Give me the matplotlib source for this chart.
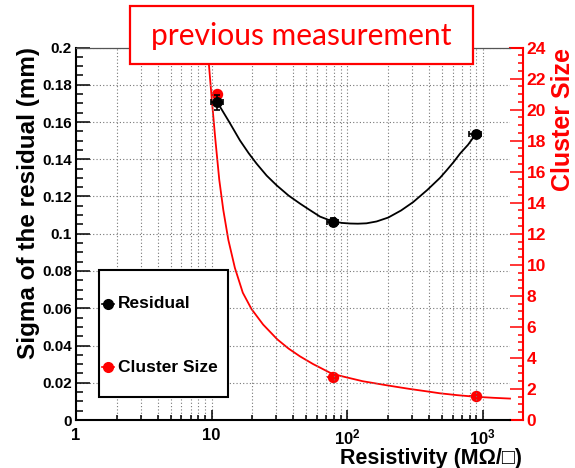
import matplotlib
matplotlib.use('Agg')
import matplotlib.pyplot as plt
from matplotlib.ticker import MultipleLocator, NullFormatter, LogLocator, FixedLocator, FuncFormatter
from matplotlib.patches import Rectangle
from matplotlib.lines import Line2D

plt.rcParams['font.family'] = ['Liberation Sans', 'DejaVu Sans']
plt.rcParams['font.weight'] = 'bold'
plt.rcParams['mathtext.fontset'] = 'custom'
plt.rcParams['mathtext.rm'] = 'Liberation Sans:bold'
plt.rcParams['mathtext.bf'] = 'Liberation Sans:bold'
plt.rcParams['mathtext.it'] = 'Liberation Sans:bold:italic'

# ---------------- data ----------------
resistivity = [11.0, 78.0, 887.0]
res_xerr = [1.1, 7.5, 90.0]
residual = [0.1707, 0.1063, 0.1534]
residual_err = [0.004, 0.002, 0.002]
cluster_size = [21.0, 2.79, 1.56]
cluster_err = [0.2, 0.1, 0.1]

# fit curves
res_fit_x = [11.0, 13.5, 16.2, 18.8, 21.5, 25.5, 30.2, 37.0, 44.9, 51.6, 63.1, 78.2, 92.0, 105,
             120, 139, 165, 201, 250, 307, 390, 484, 541, 610, 680, 780, 887]
res_fit_y = [0.1707, 0.1600, 0.1501, 0.1432, 0.1376, 0.1312, 0.1260, 0.1205, 0.1162, 0.1133,
             0.1092, 0.1066, 0.1058, 0.1055, 0.1054, 0.1056, 0.1066, 0.1087, 0.1125, 0.1170,
             0.1235, 0.1300, 0.1340, 0.1385, 0.1430, 0.1478, 0.1534]
cl_fit_x = [9.4, 9.55, 10.05, 10.67, 11.4, 12.2, 13.3, 14.86, 17.0, 19.7, 24.0, 30.5, 37.0, 44.9,
            56.2, 74.6, 88.5, 130, 201, 290, 398, 484, 650, 877, 1200, 1590]
cl_fit_y = [24.0, 22.95, 20.6, 18.05, 15.47, 13.54, 11.6, 9.8, 8.2, 7.15, 6.15, 5.2, 4.6, 4.1,
            3.6, 3.05, 2.85, 2.5, 2.22, 2.0, 1.83, 1.72, 1.6, 1.5, 1.43, 1.38]

xticks = [1, 10, 100, 1000]
xticklabels = ['1', '10', r'$10^{2}$', r'$10^{3}$']
xlim = (1, 1590)
ylim_left = (0, 0.2)
ylim_right = (0, 24)

title_text = 'previous measurement'
xlabel = 'Resistivity (M\u03a9/\u25a1)'
ylabel_left = 'Sigma of the residual (mm)'
ylabel_right = 'Cluster Size'
legend_labels = ['Residual', 'Cluster Size']

# ---------------- layout ----------------
W, H = 575, 468
fig = plt.figure(figsize=(W / 100, H / 100), dpi=100)
fig.patch.set_facecolor('white')


def fx(px):
    return px / W


def fy(py):
    return 1 - py / H


L, R, T, B = 76, 510, 47.5, 420
ax = fig.add_axes([fx(L), fy(B), fx(R) - fx(L), fy(T) - fy(B)])
ax2 = ax.twinx()
ax.set_zorder(2)
ax2.set_zorder(1)
ax.patch.set_visible(False)

ax.set_xscale('log')
ax.set_xlim(*xlim)
ax.set_ylim(*ylim_left)
ax2.set_ylim(*ylim_right)

ax.set_axisbelow(True)
ax.xaxis.set_major_locator(FixedLocator(xticks))
ax.xaxis.set_minor_locator(LogLocator(base=10, subs=range(2, 10)))
ax.xaxis.set_minor_formatter(NullFormatter())
ax.set_xticklabels(xticklabels)
ax.yaxis.set_major_locator(MultipleLocator(0.02))
ax.yaxis.set_minor_locator(MultipleLocator(0.005))
ax.yaxis.set_major_formatter(FuncFormatter(lambda v, p: '%g' % round(v, 4)))
gkw = dict(color='#777777', linestyle=(0, (1, 2)), linewidth=0.8)
ax.grid(True, which='major', axis='both', **gkw)
ax.grid(True, which='minor', axis='x', **gkw)

for s in ['left', 'bottom']:
    ax.spines[s].set_linewidth(1.5)
    ax.spines[s].set_color('black')
ax.spines['right'].set_visible(False)
ax.spines['top'].set_color('#555555')
ax.spines['top'].set_linewidth(0.9)
for s in ['left', 'top', 'bottom']:
    ax2.spines[s].set_visible(False)
ax2.spines['right'].set_position(('outward', 13 * 0.72))
ax2.spines['right'].set_color('red')
ax2.spines['right'].set_linewidth(1.5)

ax.tick_params(axis='y', which='major', direction='in', length=10, width=1.1, pad=3,
               labelsize=11, right=False)
ax.tick_params(axis='y', which='minor', direction='in', length=5, width=1.1, right=False)
ax.tick_params(axis='x', which='major', direction='in', length=7.2, width=1.1, pad=5.5,
               labelsize=12, top=False)
ax.tick_params(axis='x', which='minor', direction='in', length=3.6, width=1.1, top=False)

ax2.yaxis.set_major_locator(MultipleLocator(2))
ax2.yaxis.set_minor_locator(MultipleLocator(0.5))
ax2.tick_params(axis='y', which='major', direction='in', length=9.4, width=1.1, pad=2.7,
                labelsize=12.5, colors='red')
ax2.tick_params(axis='y', which='minor', direction='in', length=3.6, width=1.1, colors='red')

for lab in ax.get_xticklabels() + ax.get_yticklabels() + ax2.get_yticklabels():
    lab.set_fontweight('bold')

for yy in (T, B):
    fig.add_artist(Line2D([fx(R), fx(523)], [fy(yy), fy(yy)], color='red', lw=1.5,
                          transform=fig.transFigure))

# ---------------- data marks ----------------
ax2.plot(cl_fit_x, cl_fit_y, color='red', lw=1.3, clip_on=False, zorder=2)
ax2.errorbar(resistivity, cluster_size, xerr=res_xerr, yerr=cluster_err, fmt='o', color='red',
             ms=7.2, elinewidth=1.2, capsize=0, zorder=3)
ax.plot(res_fit_x, res_fit_y, color='black', lw=1.3, zorder=2)
ax.errorbar(resistivity, residual, xerr=res_xerr, yerr=residual_err, fmt='o', color='black',
            ms=6.8, elinewidth=1.2, capsize=2, capthick=1.2, zorder=3)

# ---------------- labels ----------------
fig.text(fx(29), fy(47), ylabel_left, rotation=90, ha='center', va='top',
         fontsize=17.5, fontweight='bold', color='black')
fig.text(fx(563), fy(48), ylabel_right, rotation=90, ha='center', va='top',
         fontsize=18, fontweight='bold', color='red')
fig.text(fx(522), fy(464), xlabel, ha='right', va='baseline',
         fontsize=15.5, fontweight='bold', color='black')

# ---------------- legend box ----------------
fig.add_artist(Rectangle((fx(99), fy(397)), fx(228) - fx(99), fy(270) - fy(397),
                         transform=fig.transFigure, facecolor='white', edgecolor='black',
                         lw=1.5, zorder=5))
for yy, col, lab in [(304, 'black', legend_labels[0]), (367, 'red', legend_labels[1])]:
    fig.add_artist(Line2D([fx(102), fx(114)], [fy(yy), fy(yy)], color=col, lw=1.2,
                          transform=fig.transFigure, zorder=6))
    fig.add_artist(Line2D([fx(108)], [fy(yy)], marker='o', ms=7, color=col,
                          transform=fig.transFigure, zorder=6))
    fig.text(fx(118), fy(yy), lab, ha='left', va='center', fontsize=12.5,
             fontweight='bold', color='black', zorder=7)

# ---------------- title box ----------------
fig.add_artist(Rectangle((fx(130), fy(64)), fx(473) - fx(130), fy(6) - fy(64),
                         transform=fig.transFigure, facecolor='white', edgecolor='red',
                         lw=1.6, zorder=5))
t = fig.text(fx(301), fy(45), title_text, ha='center', va='baseline', fontsize=22,
             family=['Lato', 'DejaVu Sans'], fontweight='normal', color='red', zorder=7)
fig.canvas.draw()
w = t.get_window_extent().width
t.set_fontsize(22 * 300 / w)

fig.savefig('out.png', dpi=100, facecolor='white')
